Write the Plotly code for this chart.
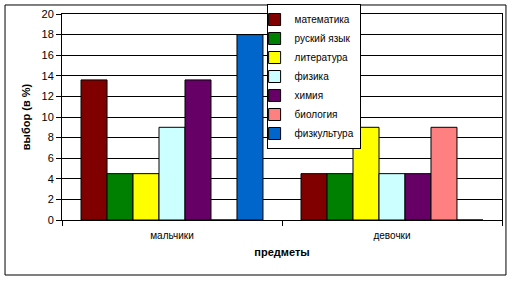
import plotly.graph_objects as go

categories = ["мальчики", "девочки"]
series_names = ["математика", "руский язык", "литература", "физика", "химия", "биология", "физкультура"]
series_values = [
    [13.6, 4.5],
    [4.5, 4.5],
    [4.5, 9.0],
    [9.0, 4.5],
    [13.6, 4.5],
    [0, 9.0],
    [18.0, 0],
]
series_colors = ["#800000", "#008000", "#FFFF00", "#CCFFFF", "#660066", "#FF8080", "#0066CC"]
y_ticks = [0, 2, 4, 6, 8, 10, 12, 14, 16, 18, 20]

FONT = "Liberation Sans, Arial, sans-serif"

fig = go.Figure()
for name, vals, col in zip(series_names, series_values, series_colors):
    fig.add_trace(go.Bar(
        name=name, x=categories, y=vals,
        marker=dict(color=col, line=dict(color="black", width=1)),
    ))

fig.update_layout(
    width=510, height=281,
    margin=dict(l=62, r=8, t=14, b=61, autoexpand=False),
    paper_bgcolor="white", plot_bgcolor="white",
    barmode="group", bargap=0.173, bargroupgap=0,
    font=dict(family=FONT, size=11, color="black"),
    legend=dict(
        x=0.465, y=1.0485, xanchor="left", yanchor="top",
        bgcolor="white", bordercolor="black", borderwidth=1,
        font=dict(family=FONT, size=10, color="black"),
        tracegroupgap=0, itemwidth=30, indentation=-13, maxheight=400,
    ),
    showlegend=True,
)
fig.update_yaxes(
    range=[0, 20], tickvals=y_ticks, ticks="outside", ticklen=5, tickcolor="black",
    showgrid=True, gridcolor="black", gridwidth=1,
    showline=True, linecolor="black", linewidth=1, mirror=True,
    zeroline=False, tickfont=dict(size=11),
    title=dict(text="<b>выбор (в %)</b>", font=dict(size=11), standoff=8),
    automargin=False,
)
fig.update_xaxes(
    ticks="outside", tickson="boundaries", ticklen=5, tickcolor="black",
    showline=True, linecolor="black", linewidth=1, mirror=True,
    showgrid=False, tickfont=dict(size=10), ticklabelstandoff=6,
    title=dict(text="<b>предметы</b>", font=dict(size=11), standoff=8),
    automargin=False,
)
# outer chart border
fig.add_shape(type="rect", xref="paper", yref="paper",
              x0=-0.1295, x1=1.009, y0=-0.267, y1=1.0437,
              line=dict(color="black", width=1), fillcolor="rgba(0,0,0,0)", layer="below")

fig.write_html("out.html", config={"displayModeBar": False},
               post_script="document.body.style.margin='0';")
